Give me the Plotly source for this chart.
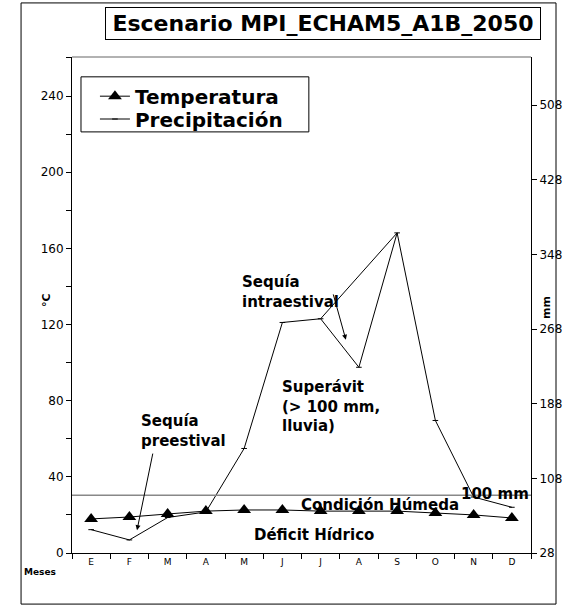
import plotly.graph_objects as go

# ---------------- data ----------------
meses = ["E", "F", "M", "A", "M", "J", "J", "A", "S", "O", "N", "D"]
temperatura = [17.9, 18.9, 20.5, 22.0, 22.6, 22.6, 22.0, 22.0, 22.0, 21.0, 20.0, 18.4]   # °C (left axis)
precipitacion = [53, 42, 66, 72, 140, 275, 279, 227, 371, 170, 88, 77]                    # mm (right axis)
umbral_mm = 90            # horizontal "100 mm" reference line as drawn
puente_meses = [6, 8]     # July -> September bridge line over the intra-summer drought
temp_ticks = [0, 40, 80, 120, 160, 200, 240]
mm_ticks = [28, 108, 188, 268, 348, 428, 508]

x = list(range(len(meses)))
FONT = "DejaVu Sans"

fig = go.Figure()

fig.add_trace(go.Scatter(
    x=x, y=temperatura, name="<b>Temperatura</b>", mode="lines+markers",
    line=dict(color="black", width=1),
    marker=dict(symbol="triangle-up", size=12, color="black"),
    yaxis="y", legend="legend"))

fig.add_trace(go.Scatter(
    x=x, y=precipitacion, name="<b>Precipitación</b>", mode="lines+markers",
    line=dict(color="black", width=1),
    marker=dict(symbol="line-ew", size=4, line=dict(color="black", width=1)),
    yaxis="y2", legend="legend2"))

fig.add_trace(go.Scatter(
    x=[x[i] for i in puente_meses], y=[precipitacion[i] for i in puente_meses],
    mode="lines", line=dict(color="black", width=1), showlegend=False,
    hoverinfo="skip", yaxis="y2"))

L_TOP = 260.5
R_TOP = 28 + (L_TOP / 240) * 480 * (457 / 448)

axis_common = dict(showgrid=False, zeroline=False, linecolor="black", linewidth=1,
                   tickcolor="black", tickwidth=1, ticklen=5)

leg_common = dict(xanchor="left", yanchor="middle", borderwidth=0,
                  bgcolor="rgba(0,0,0,0)", font=dict(size=20, family=FONT),
                  itemwidth=30)

fig.update_layout(
    width=575, height=612,
    margin=dict(l=72, r=44, t=57, b=59),
    paper_bgcolor="white", plot_bgcolor="white",
    font=dict(family=FONT, color="black"),
    showlegend=True,
    legend=dict(x=0.050, y=0.921, **leg_common),
    legend2=dict(x=0.050, y=0.875, **leg_common),
    xaxis=dict(range=[-0.5, 11.5], tickmode="array", tickvals=x, ticktext=meses,
               ticks="", showline=True, tickfont=dict(size=9),
               showgrid=False, zeroline=False, linecolor="black", linewidth=1,
               minor=dict(tick0=-0.5, dtick=1, ticks="outside", ticklen=5,
                          tickcolor="black", tickwidth=1)),
    xaxis2=dict(range=[-0.5, 11.5], overlaying="x", anchor="y", side="bottom",
                showticklabels=False, ticks="", showline=False, showgrid=False,
                zeroline=False,
                minor=dict(tick0=-0.5, dtick=1, ticks="inside", ticklen=5,
                           tickcolor="black", tickwidth=1)),
    yaxis=dict(range=[0, L_TOP], tickmode="array", tickvals=temp_ticks,
               ticks="outside", showline=True, tickfont=dict(size=12),
               minor=dict(tick0=20, dtick=40, ticks="outside", ticklen=5,
                          tickcolor="black", tickwidth=1),
               **axis_common),
    yaxis3=dict(range=[0, L_TOP], overlaying="y", anchor="x", side="left",
                showticklabels=False, ticks="inside", ticklen=5, tickcolor="black",
                tickmode="array", tickvals=temp_ticks,
                showline=False, showgrid=False, zeroline=False,
                minor=dict(tick0=20, dtick=40, ticks="inside", ticklen=5,
                           tickcolor="black", tickwidth=1)),
    yaxis2=dict(range=[28, R_TOP], overlaying="y", side="right", anchor="x",
                tickmode="array", tickvals=mm_ticks, ticks="outside",
                showline=True, tickfont=dict(size=12),
                **axis_common),
    yaxis4=dict(range=[28, R_TOP], overlaying="y", side="right", anchor="x",
                showticklabels=False, ticks="inside", ticklen=5, tickcolor="black",
                tickmode="array", tickvals=mm_ticks,
                showline=False, showgrid=False, zeroline=False),
)

# gray top border of plot area and the threshold line
fig.add_shape(type="line", xref="paper", yref="paper", x0=0, x1=1, y0=1, y1=1,
              line=dict(color="#999999", width=1.5))
fig.add_shape(type="line", xref="paper", yref="y2", x0=0, x1=1,
              y0=umbral_mm, y1=umbral_mm, line=dict(color="#888888", width=1.5))
# outer frame
fig.add_shape(type="rect", xref="paper", yref="paper",
              x0=-0.111, x1=1.0545, y0=-0.103, y1=1.109,
              line=dict(color="black", width=1))
# legend frame
fig.add_shape(type="rect", xref="paper", yref="paper",
              x0=0.0196, x1=0.516, y0=0.849, y1=0.960,
              line=dict(color="black", width=1), fillcolor="white", layer="above")

bold = dict(family=FONT, size=15, color="black")
ann = [
    dict(text="<b>Escenario MPI_ECHAM5_A1B_2050</b>", xref="paper", yref="paper",
         x=0.547, y=1.067, xanchor="center", yanchor="middle", showarrow=False,
         font=dict(family=FONT, size=22), bordercolor="black", borderwidth=1,
         width=432, height=29, bgcolor="white"),
    dict(text="<b>°C</b>", xref="paper", yref="paper", x=-0.057, y=0.51,
         xanchor="center", yanchor="middle", textangle=-90, showarrow=False,
         font=dict(family=FONT, size=11)),
    dict(text="<b>mm</b>", xref="paper", yref="paper", x=1.035, y=0.494,
         xanchor="center", yanchor="middle", textangle=-90, showarrow=False,
         font=dict(family=FONT, size=11)),
    dict(text="<b>Sequía<br>preestival</b>", x=1.25, y=64, xref="x", yref="y",
         xanchor="left", yanchor="middle", align="left", showarrow=False, font=bold),
    dict(text="<b>Sequía<br>intraestival</b>", x=3.89, y=137, xref="x", yref="y",
         xanchor="left", yanchor="middle", align="left", showarrow=False, font=bold),
    dict(text="<b>Superávit<br>(> 100 mm,<br>lluvia)</b>", x=4.94, y=77, xref="x",
         yref="y", xanchor="left", yanchor="middle", align="left", showarrow=False,
         font=bold),
    dict(text="<b>Condición Húmeda</b>", x=7.55, y=25, xref="x", yref="y",
         xanchor="center", yanchor="middle", showarrow=False, font=bold),
    dict(text="<b>Déficit Hídrico</b>", x=5.83, y=9.5, xref="x", yref="y",
         xanchor="center", yanchor="middle", showarrow=False, font=bold),
    dict(text="<b>100 mm</b>", x=11.5, y=31, xref="x", yref="y",
         xanchor="right", yanchor="middle", showarrow=False, font=bold),
    dict(text="<b>Meses</b>", xref="paper", yref="paper", x=-0.108, y=-0.038,
         xanchor="left", yanchor="middle", showarrow=False,
         font=dict(family=FONT, size=9)),
    # arrows
    dict(text="", x=1.2, y=12, ax=1.62, ay=53, xref="x", yref="y", axref="x",
         ayref="y", showarrow=True, arrowhead=2, arrowsize=1, arrowwidth=1,
         arrowcolor="black"),
    dict(text="", x=6.66, y=112, ax=6.32, ay=136.6, xref="x", yref="y", axref="x",
         ayref="y", showarrow=True, arrowhead=2, arrowsize=1, arrowwidth=1,
         arrowcolor="black"),
]
fig.update_layout(annotations=ann)

fig.write_html("out.html")
